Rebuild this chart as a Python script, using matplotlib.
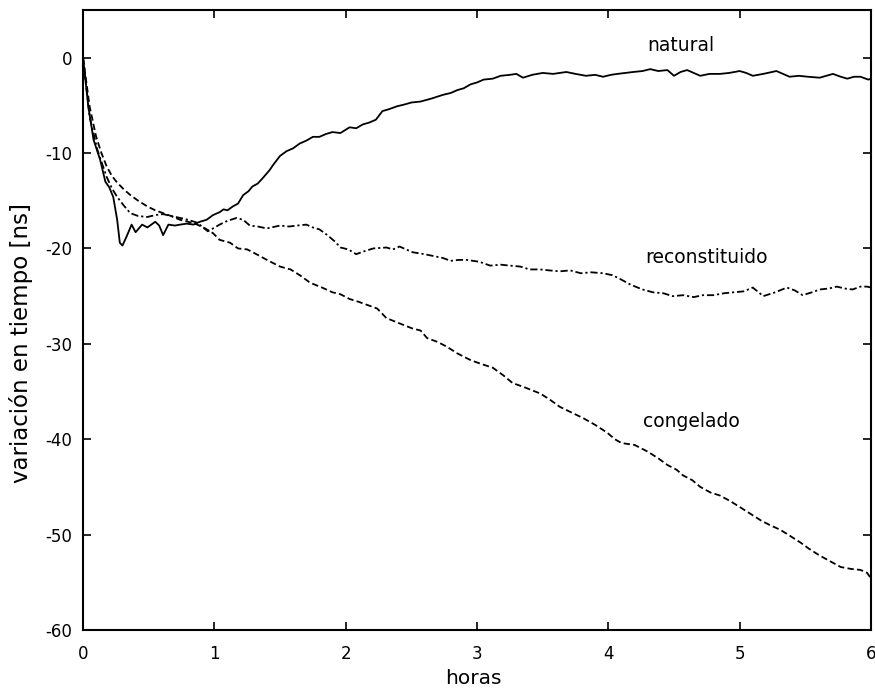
import matplotlib
matplotlib.use("Agg")
import matplotlib.pyplot as plt

# ---- data (hours, ns) ----
natural_t = [0, 0.04, 0.08, 0.13, 0.17, 0.20, 0.23, 0.26, 0.28, 0.30,
             0.33, 0.37, 0.40, 0.45, 0.49, 0.53, 0.55, 0.58, 0.61, 0.65,
             0.70, 0.74, 0.79, 0.84, 0.89, 0.94, 0.99, 1.04, 1.07, 1.10,
             1.14, 1.18, 1.22, 1.26, 1.29, 1.33, 1.37, 1.42, 1.45, 1.50,
             1.55, 1.60, 1.65, 1.70, 1.75, 1.80, 1.85, 1.90, 1.96, 2.03,
             2.08, 2.13, 2.18, 2.23, 2.28, 2.33, 2.39, 2.45, 2.50, 2.57,
             2.65, 2.74, 2.80, 2.85, 2.90, 2.95, 3.00, 3.05, 3.12, 3.18,
             3.25, 3.30, 3.35, 3.42, 3.50, 3.58, 3.68, 3.75, 3.83, 3.90,
             3.96, 4.02, 4.07, 4.13, 4.19, 4.26, 4.32, 4.38, 4.45, 4.50,
             4.55, 4.60, 4.65, 4.70, 4.77, 4.85, 4.92, 5.00, 5.05, 5.10,
             5.18, 5.28, 5.33, 5.38, 5.45, 5.52, 5.61, 5.66, 5.71, 5.77,
             5.82, 5.87, 5.92, 5.98, 6.00]
natural_v = [0, -5.1, -8.6, -10.7, -13.0, -13.6, -14.6, -17.0, -19.4, -19.7,
             -18.8, -17.5, -18.3, -17.5, -17.8, -17.4, -17.2, -17.6, -18.6, -17.5,
             -17.6, -17.5, -17.4, -17.5, -17.2, -17.0, -16.5, -16.2, -15.9, -16.0,
             -15.6, -15.3, -14.4, -14.0, -13.5, -13.2, -12.6, -11.8, -11.2, -10.3,
             -9.8, -9.5, -9.0, -8.7, -8.3, -8.3, -8.0, -7.8, -7.9, -7.3,
             -7.4, -7.0, -6.8, -6.5, -5.6, -5.4, -5.1, -4.9, -4.7, -4.6,
             -4.3, -3.9, -3.7, -3.4, -3.2, -2.8, -2.6, -2.3, -2.2, -1.9,
             -1.8, -1.7, -2.1, -1.8, -1.6, -1.7, -1.5, -1.7, -1.9, -1.8,
             -2.0, -1.8, -1.7, -1.6, -1.5, -1.4, -1.2, -1.4, -1.3, -1.9,
             -1.5, -1.3, -1.6, -1.9, -1.7, -1.7, -1.6, -1.4, -1.6, -1.9,
             -1.7, -1.4, -1.7, -2.0, -1.9, -2.0, -2.1, -1.9, -1.7, -2.0,
             -2.2, -2.0, -2.0, -2.3, -2.2]

congelado_t = [0, 0.05, 0.10, 0.14, 0.18, 0.22, 0.26, 0.31, 0.36, 0.42,
               0.49, 0.55, 0.61, 0.67, 0.74, 0.80, 0.87, 0.93, 0.99, 1.04,
               1.12, 1.18, 1.25, 1.32, 1.40, 1.50, 1.58, 1.65, 1.73, 1.82,
               1.90, 1.96, 2.03, 2.10, 2.18, 2.24, 2.31, 2.40, 2.51, 2.57,
               2.62, 2.70, 2.77, 2.85, 2.95, 3.03, 3.12, 3.20, 3.27, 3.37,
               3.48, 3.55, 3.63, 3.72, 3.81, 3.90, 3.99, 4.05, 4.10, 4.20,
               4.30, 4.38, 4.45, 4.52, 4.57, 4.64, 4.70, 4.78, 4.85, 4.93,
               5.00, 5.08, 5.16, 5.23, 5.31, 5.38, 5.46, 5.53, 5.61, 5.69,
               5.77, 5.85, 5.92, 5.97, 6.00]
congelado_v = [0, -5.1, -8.3, -10.0, -11.4, -12.4, -13.1, -13.8, -14.4, -15.0,
               -15.6, -16.0, -16.3, -16.6, -17.0, -17.2, -17.5, -17.9, -18.4, -19.1,
               -19.4, -20.0, -20.1, -20.6, -21.2, -21.9, -22.2, -22.8, -23.6, -24.1,
               -24.6, -24.8, -25.3, -25.6, -26.0, -26.3, -27.3, -27.8, -28.4, -28.6,
               -29.4, -29.8, -30.3, -31.0, -31.7, -32.1, -32.5, -33.3, -34.1, -34.6,
               -35.2, -35.8, -36.6, -37.2, -37.8, -38.5, -39.3, -40.0, -40.4, -40.6,
               -41.3, -42.0, -42.7, -43.2, -43.8, -44.3, -45.0, -45.6, -45.9, -46.5,
               -47.1, -47.8, -48.5, -49.0, -49.5, -50.1, -50.8, -51.5, -52.2, -52.8,
               -53.4, -53.6, -53.7, -54.0, -54.6]

reconst_t = [0, 0.05, 0.11, 0.15, 0.18, 0.22, 0.26, 0.31, 0.36, 0.42,
             0.49, 0.55, 0.61, 0.67, 0.74, 0.80, 0.87, 0.95, 0.99, 1.04,
             1.10, 1.17, 1.22, 1.27, 1.33, 1.40, 1.50, 1.57, 1.63, 1.70,
             1.75, 1.80, 1.86, 1.92, 1.96, 2.02, 2.08, 2.14, 2.21, 2.31,
             2.36, 2.41, 2.51, 2.60, 2.67, 2.74, 2.80, 2.86, 2.92, 3.02,
             3.10, 3.18, 3.25, 3.33, 3.40, 3.48, 3.55, 3.63, 3.71, 3.79,
             3.87, 3.96, 4.03, 4.09, 4.17, 4.26, 4.34, 4.42, 4.49, 4.57,
             4.65, 4.72, 4.80, 4.88, 4.95, 5.03, 5.10, 5.18, 5.27, 5.36,
             5.42, 5.48, 5.55, 5.61, 5.68, 5.74, 5.80, 5.86, 5.92, 5.97,
             6.00]
reconst_v = [0, -6.2, -9.7, -11.3, -12.5, -13.7, -14.6, -15.5, -16.3, -16.6,
             -16.7, -16.5, -16.4, -16.6, -16.8, -17.0, -17.3, -18.2, -17.9, -17.5,
             -17.1, -16.8, -17.0, -17.6, -17.7, -17.9, -17.6, -17.7, -17.6, -17.5,
             -17.8, -18.0, -18.6, -19.3, -19.9, -20.1, -20.6, -20.3, -20.0, -19.9,
             -20.1, -19.8, -20.4, -20.6, -20.8, -21.0, -21.3, -21.2, -21.2, -21.4,
             -21.8, -21.7, -21.8, -21.9, -22.2, -22.2, -22.3, -22.4, -22.3, -22.6,
             -22.5, -22.6, -22.8, -23.2, -23.8, -24.3, -24.6, -24.7, -25.0, -24.9,
             -25.1, -24.9, -24.9, -24.7, -24.6, -24.5, -24.1, -25.0, -24.6, -24.1,
             -24.4, -24.9, -24.6, -24.3, -24.2, -24.0, -24.2, -24.3, -24.0, -24.0,
             -24.1]

series_labels = ["natural", "reconstituido", "congelado"]
label_pos = [(4.55, 1.3), (4.75, -20.9), (4.63, -38.1)]

x_ticks = [0, 1, 2, 3, 4, 5, 6]
y_ticks = [0, -10, -20, -30, -40, -50, -60]

# ---- figure ----
plt.rcParams['font.family'] = ['DejaVu Sans']
fig = plt.figure(figsize=(8.75, 6.93), dpi=100)
ax = fig.add_axes([0.0949, 0.0909, 0.9005, 0.8947])

lw = 1.3
ax.plot(natural_t, natural_v, color='black', lw=lw, linestyle='-')
ax.plot(reconst_t, reconst_v, color='black', lw=lw,
        linestyle=(0, (4, 1.6, 1.2, 1.6)))
ax.plot(congelado_t, congelado_v, color='black', lw=lw,
        linestyle=(0, (3.5, 1.8)))

for txt, (px, py) in zip(series_labels, label_pos):
    ax.text(px, py, txt, ha='center', va='center', fontsize=13.5, color='black')

ax.set_xlim(0, 6)
ax.set_ylim(-60, 5)
ax.set_xticks(x_ticks)
ax.set_yticks(y_ticks)
ax.set_xticklabels([str(v) for v in x_ticks])
ax.set_yticklabels([str(v) for v in y_ticks])

ax.tick_params(axis='both', direction='in', length=6, width=1.2,
               top=True, right=True, labelsize=12)
ax.tick_params(axis='x', pad=11)
ax.tick_params(axis='y', pad=8)

for s in ax.spines.values():
    s.set_linewidth(1.5)

ax.set_xlabel("horas", fontsize=14.5)
ax.set_ylabel("variación en tiempo [ns]", fontsize=16.5)
ax.xaxis.set_label_coords(0.495, -0.063)
ax.yaxis.set_label_coords(-0.063, 0.463)
ax.xaxis.label.set_va('top')

fig.savefig("out.png", dpi=100)
